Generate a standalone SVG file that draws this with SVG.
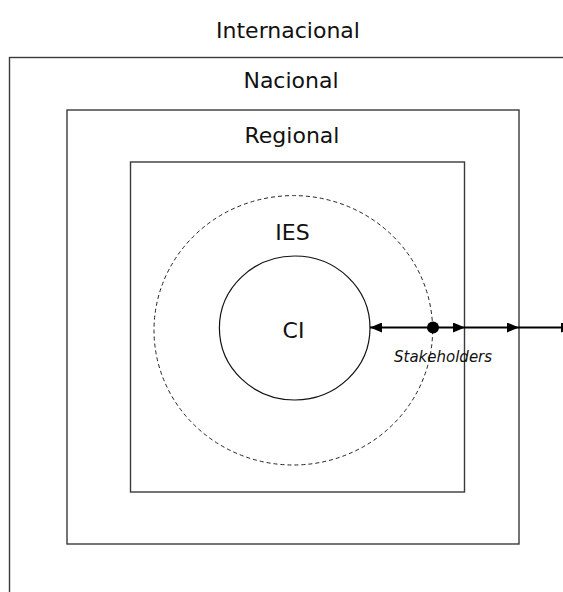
<svg xmlns="http://www.w3.org/2000/svg" width="563" height="592" viewBox="0 0 563 592">
  <style>
    .frame { fill: none; stroke: #3a3a3a; stroke-width: 1.4; }
    .label { font-family: "DejaVu Sans", Verdana, sans-serif; font-size: 22px; fill: #111; text-anchor: middle; }
    .link { stroke: #000; stroke-width: 2; fill: none; }
    .head { fill: #000; }
  </style>
  <defs>
    <marker id="arrow" viewBox="0 0 12 10" refX="12" refY="5" markerWidth="12" markerHeight="10" markerUnits="userSpaceOnUse" orient="auto">
      <path class="head" d="M0,0 L12,5 L0,10 Z"/>
    </marker>
  </defs>
  <rect width="563" height="592" fill="#fff"/>

  <g id="internacional">
    <rect class="frame" x="9.5" y="57.5" width="600" height="600"/>
    <text class="label" x="288" y="38">Internacional</text>
  </g>

  <g id="nacional">
    <rect class="frame" x="67" y="110" width="452" height="434"/>
    <text class="label" x="291" y="88">Nacional</text>
  </g>

  <g id="regional">
    <rect class="frame" x="130.5" y="162" width="334" height="330"/>
    <text class="label" x="292" y="143">Regional</text>
  </g>

  <g id="ies">
    <ellipse cx="293.3" cy="330.3" rx="139.3" ry="134.7" fill="none" stroke="#222" stroke-width="1" stroke-dasharray="4 3"/>
    <text class="label" x="292.5" y="239.5">IES</text>
  </g>

  <g id="ci">
    <ellipse cx="294.7" cy="328" rx="75.3" ry="72" fill="none" stroke="#111" stroke-width="1.2"/>
    <text class="label" x="293.5" y="337.5" font-size="21">CI</text>
  </g>

  <g id="connectors">
    <line class="link" x1="433" y1="327.5" x2="370" y2="327.5" marker-end="url(#arrow)"/>
    <line class="link" x1="433" y1="327.5" x2="465" y2="327.5" marker-end="url(#arrow)"/>
    <line class="link" x1="465" y1="327.5" x2="519" y2="327.5" marker-end="url(#arrow)"/>
    <line class="link" x1="519" y1="327.5" x2="573" y2="327.5" marker-end="url(#arrow)"/>
    <circle cx="433" cy="327.5" r="6" fill="#000"/>
  </g>

  <g id="stakeholders">
    <text x="394" y="361.5" font-family="DejaVu Sans, Verdana, sans-serif" font-size="15" font-style="italic" fill="#111">Stakeholders</text>
  </g>
</svg>
